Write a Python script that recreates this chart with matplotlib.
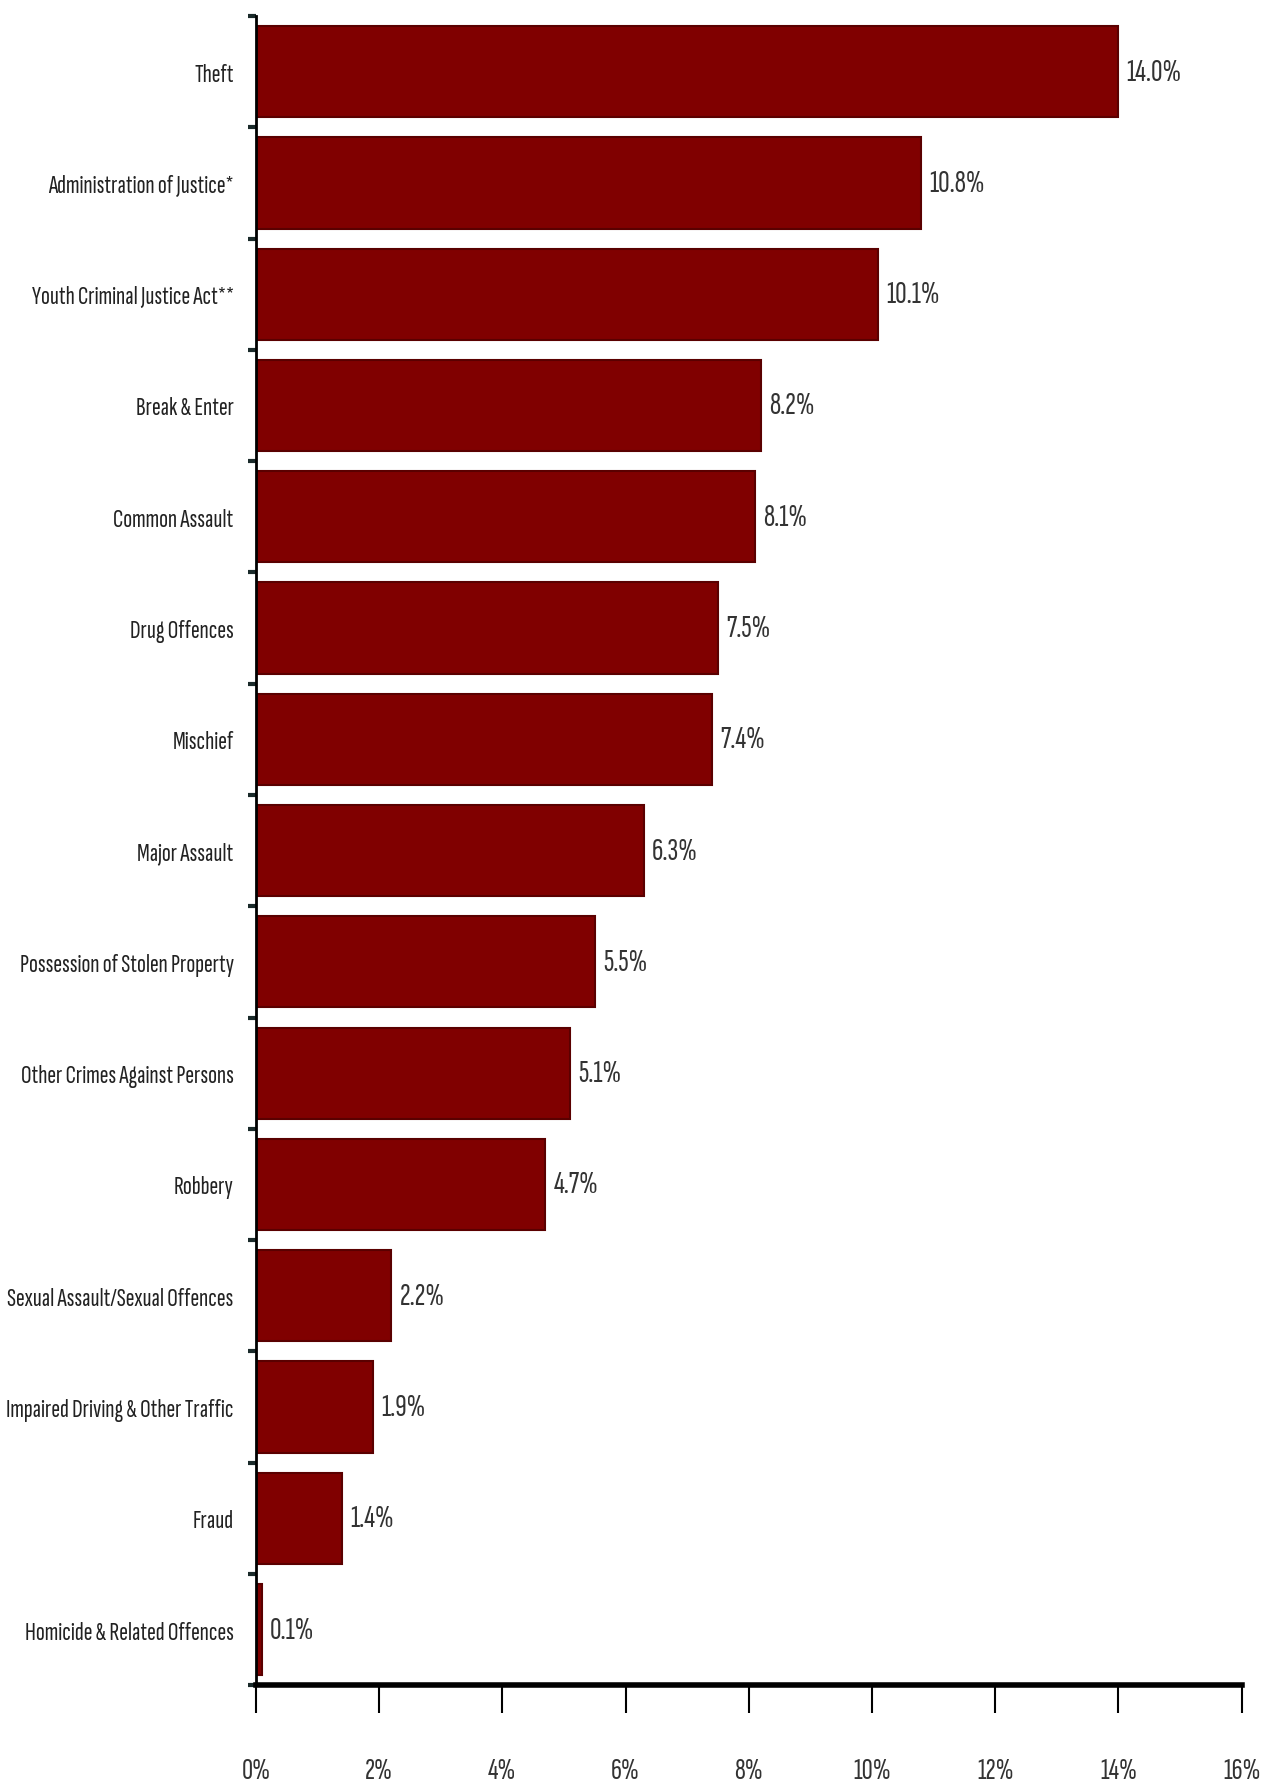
import matplotlib
matplotlib.use("Agg")
import matplotlib.pyplot as plt
import numpy as np

categories = ["Theft", "Administration of Justice*", "Youth Criminal Justice Act**",
              "Break & Enter", "Common Assault", "Drug Offences", "Mischief",
              "Major Assault", "Possession of Stolen Property",
              "Other Crimes Against Persons", "Robbery",
              "Sexual Assault/Sexual Offences", "Impaired Driving & Other Traffic",
              "Fraud", "Homicide & Related Offences"]
values = [14.0, 10.8, 10.1, 8.2, 8.1, 7.5, 7.4, 6.3, 5.5, 5.1, 4.7, 2.2, 1.9, 1.4, 0.1]
xticks = [0, 2, 4, 6, 8, 10, 12, 14, 16]

fam = ["Sofia Sans Extra Condensed", "Archivo Narrow", "DejaVu Sans"]
plt.rcParams['font.family'] = fam

fig = plt.figure(figsize=(12.67, 17.9), dpi=100)
ax = fig.add_axes([0.202, 0.058, 0.778, 0.9325])

n = len(categories)
y = np.arange(n)
ax.barh(y, values, height=0.82, color="#800000", edgecolor="#5a0000", linewidth=1.5)
ax.set_ylim(n - 0.5, -0.5)
ax.set_xlim(0, 16)

for yi, v in zip(y, values):
    ax.text(v + 0.13, yi, f"{v:.1f}%", va="center", ha="left", fontsize=23, color="#333333")

ax.set_yticks(y)
ax.set_yticklabels(categories, fontsize=19, color="#222222")
ax.tick_params(axis="y", which="major", length=0, pad=16)
ax.set_yticks(np.arange(n + 1) - 0.5, minor=True)
ax.tick_params(axis="y", which="minor", length=6, width=3, color="#1a2a2a", direction="out")

ax.set_xticks(xticks)
ax.set_xticklabels([f"{t}%" for t in xticks], fontsize=22, color="#333333")
ax.tick_params(axis="x", length=20, width=1.5, pad=32, direction="out")

for s in ["top", "right"]:
    ax.spines[s].set_visible(False)
ax.spines["bottom"].set_linewidth(4)
ax.spines["left"].set_linewidth(2)

fig.savefig("out.png", dpi=100)
